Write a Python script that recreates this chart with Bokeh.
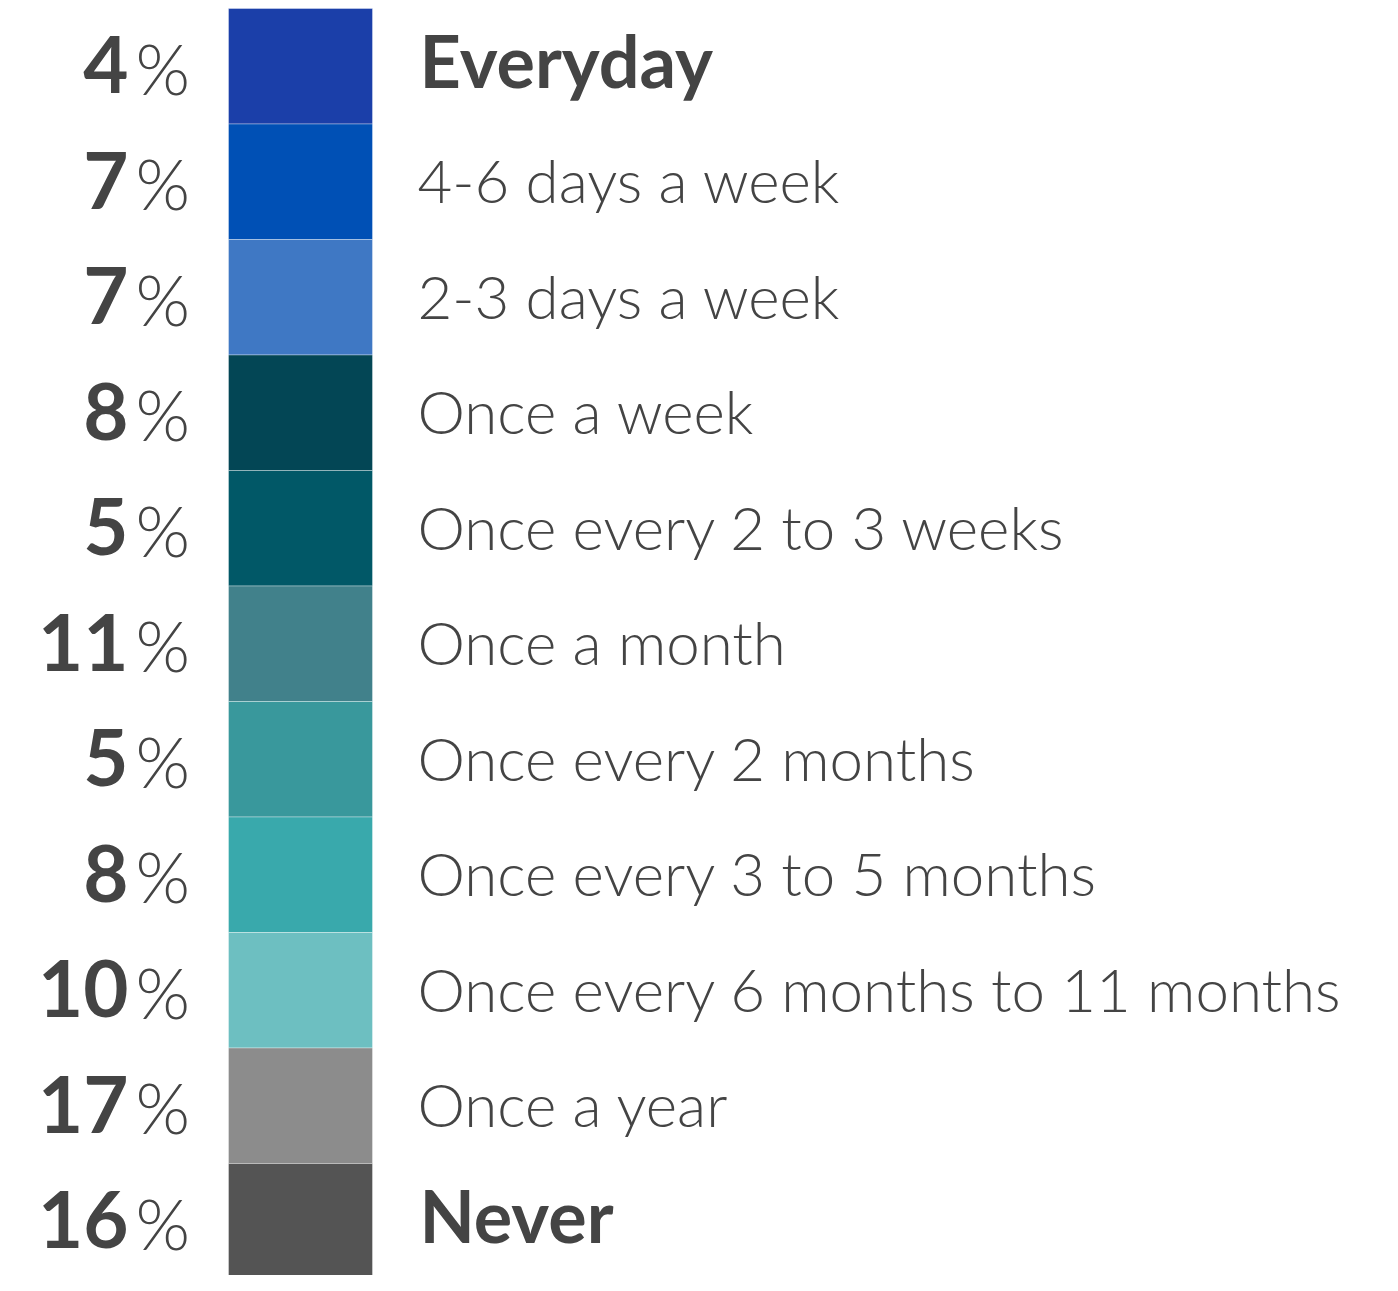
from bokeh.plotting import figure
from bokeh.models import Range1d, ColumnDataSource
from bokeh.core.properties import value
from bokeh.embed import file_html
from bokeh.resources import INLINE

categories = ["Everyday", "4-6 days a week", "2-3 days a week", "Once a week",
              "Once every 2 to 3 weeks", "Once a month", "Once every 2 months",
              "Once every 3 to 5 months", "Once every 6 months to 11 months",
              "Once a year", "Never"]
percents = [4, 7, 7, 8, 5, 11, 5, 8, 10, 17, 16]
colors = ["#1B3FA9", "#0050B5", "#3F78C4", "#034655", "#015867", "#41818B",
          "#39989C", "#39A9AC", "#6DBFC1", "#8C8C8C", "#545454"]
bold_rows = ["Everyday", "Never"]

W, H = 1382, 1275
ROW = 115.5
TOP_PX = 8
n = len(categories)
ys = [n - 1 - i for i in range(n)]
top = (n - 1) + 0.5 + TOP_PX / ROW
bottom = top - H / ROW

NUM_SIZE, PCT_SIZE, BOLD_SIZE, LIGHT_SIZE = 78, 70, 72, 60


def base(target_px, size):
    # SVG renderer places the alphabetic baseline about 0.4em below the anchor
    return (target_px - 0.39 * size) / ROW


src = ColumnDataSource(dict(
    y=ys,
    yn=[y - base(29, NUM_SIZE) for y in ys],
    yp=[y - base(29, PCT_SIZE) for y in ys],
    cat=categories, color=colors,
    num=[str(v) for v in percents], pct=["%"] * n,
))
bold_src = ColumnDataSource(dict(
    y=[ys[categories.index(c)] - base(22, BOLD_SIZE) for c in bold_rows], cat=bold_rows))
light_idx = [i for i, c in enumerate(categories) if c not in bold_rows]
light_src = ColumnDataSource(dict(
    y=[ys[i] - base(22, LIGHT_SIZE) for i in light_idx],
    cat=[categories[i] for i in light_idx]))

p = figure(width=W, height=H, x_range=Range1d(0, W), y_range=Range1d(bottom, top),
           output_backend="svg", toolbar_location=None, min_border=0)
p.axis.visible = False
p.grid.visible = False
p.outline_line_color = None
p.background_fill_color = "white"

BAR_L, BAR_R = 228, 372
p.rect(x=(BAR_L + BAR_R) / 2, y="y", width=BAR_R - BAR_L, height=1, source=src,
       fill_color="color", line_color="white", line_alpha=0.35, line_width=1)

TXT = "#444444"
p.text(x=128, y="yn", text="num", source=src, text_font=value("Lato"),
       text_font_style="bold", text_font_size=f"{NUM_SIZE}px", text_color=TXT,
       text_align="right", text_baseline="alphabetic")
p.text(x=135, y="yp", text="pct", source=src, text_font=value("Lato Light"),
       text_font_size=f"{PCT_SIZE}px", text_color=TXT,
       text_align="left", text_baseline="alphabetic")

p.text(x=419, y="y", text="cat", source=bold_src, text_font=value("Lato"),
       text_font_style="bold", text_font_size=f"{BOLD_SIZE}px", text_color=TXT,
       text_align="left", text_baseline="alphabetic")
p.text(x=417, y="y", text="cat", source=light_src, text_font=value("Lato Light"),
       text_font_size=f"{LIGHT_SIZE}px", text_color=TXT,
       text_align="left", text_baseline="alphabetic")

open("out.html", "w").write(file_html(p, INLINE))
